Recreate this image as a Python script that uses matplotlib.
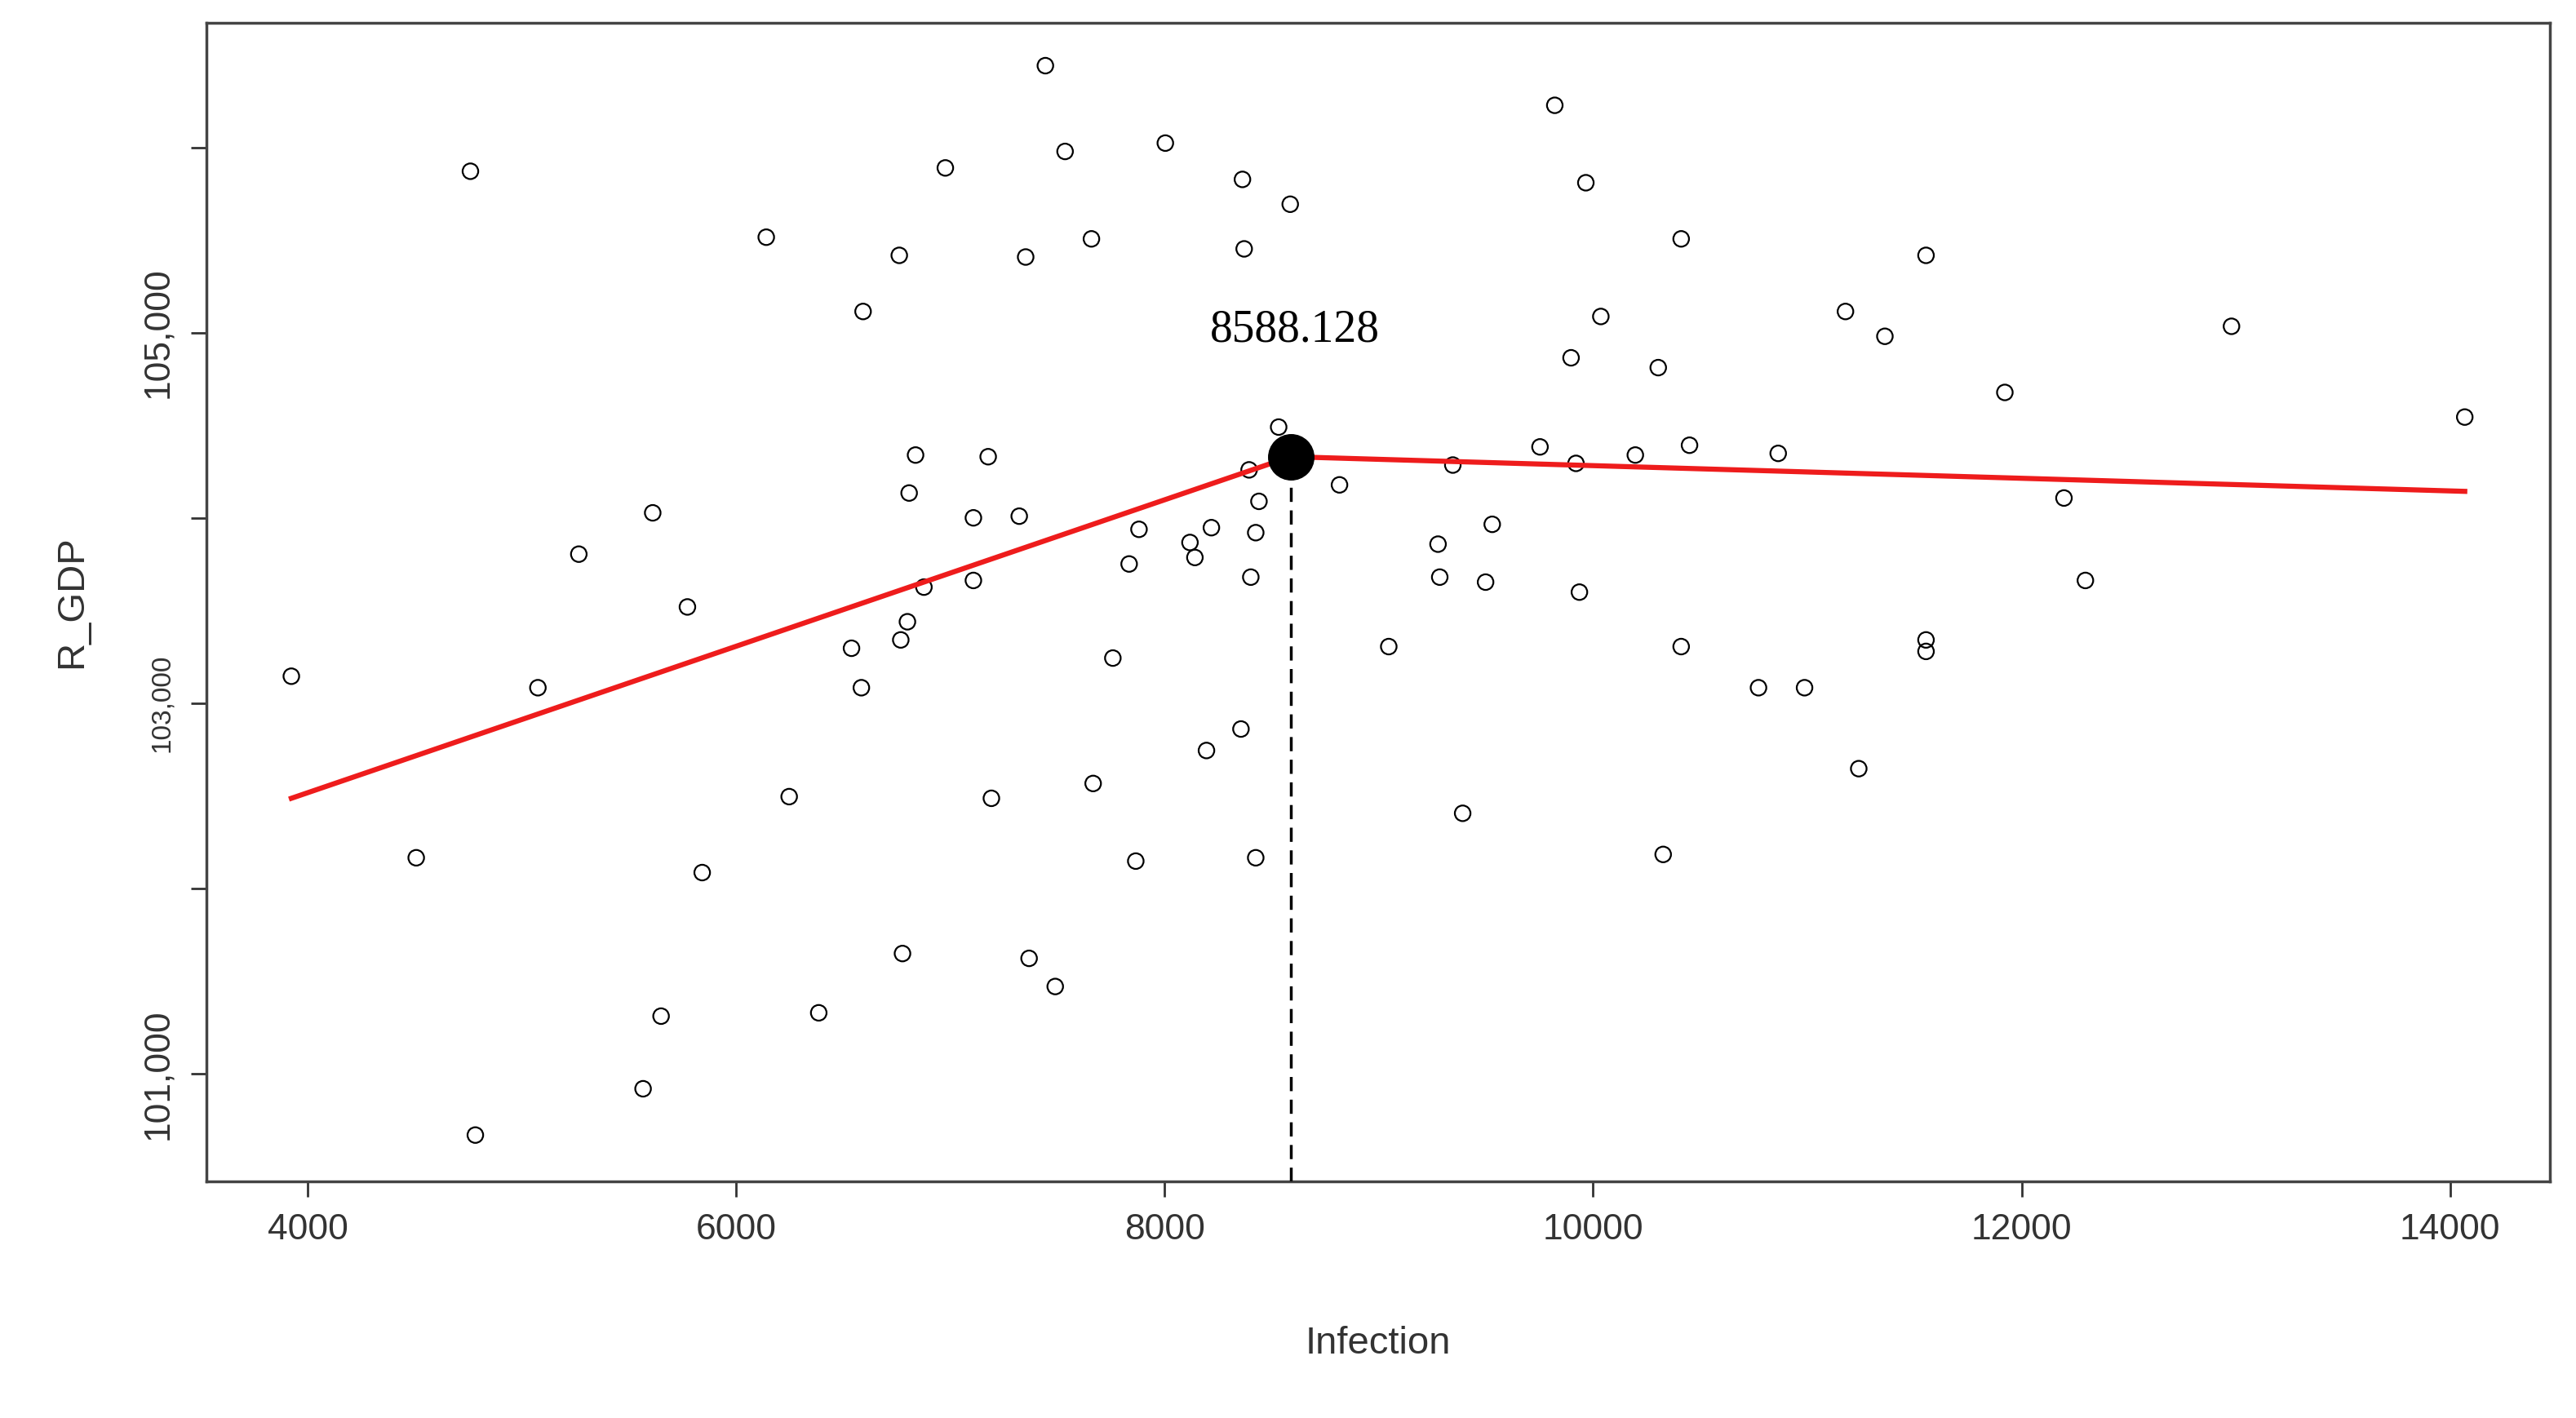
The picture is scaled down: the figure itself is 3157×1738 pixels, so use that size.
import matplotlib
matplotlib.use("Agg")
import matplotlib.pyplot as plt

# scatter data
infection = [3923, 4506, 4759, 4782, 5074, 5265, 5610, 5565, 5649, 5772, 5841, 6140, 6247, 6385,
             6538, 6584, 6592, 6761, 6768, 6799, 6807, 6837, 6876, 6776, 6976, 7107, 7107, 7176,
             7191, 7321, 7351, 7367, 7443, 7489, 7535, 7658, 7666, 7758, 7834, 7865, 7880, 8003,
             8118, 8141, 8195, 8218, 8356, 8363, 8371, 8394, 8402, 8425, 8425, 8440, 8532, 8586,
             8816, 9046, 9276, 9284, 9345, 9391, 9498, 9529, 9752, 9821, 9897, 9920, 9936, 9966,
             10036, 10197, 10304, 10327, 10411, 10411, 10450, 10772, 10864, 10987, 11178, 11240,
             11362, 11554, 11554, 11554, 11922, 12198, 12298, 12980, 14069]
r_gdp = [103147, 102167, 105873, 100670, 103085, 103806, 104029, 100920, 101312, 103521, 102087,
         105517, 102497, 101330, 103298, 103085, 105116, 105419, 103343, 103441, 104136, 104341,
         103628, 101650, 105891, 104002, 103664, 104332, 102488, 104011, 105410, 101624, 106443,
         101472, 105980, 105508, 102568, 103245, 103753, 102149, 103940, 106025, 103869, 103788,
         102746, 103949, 102862, 105829, 105454, 104261, 103682, 103922, 102167, 104091, 104492,
         105695, 104180, 103307, 103860, 103682, 104287, 102407, 103655, 103967, 104385, 106229,
         104866, 104296, 103601, 105811, 105089, 104341, 104813, 102185, 103307, 105508, 104394,
         103085, 104350, 103085, 105116, 102648, 104982, 105419, 103343, 103281, 104679, 104109,
         103664, 105036, 104546]

# piecewise fit
fit_x = [3923, 8588.128, 14069]
fit_y = [102488, 104332, 104145]
breakpoint_x = 8588.128
breakpoint_y = 104332

x_ticks = [4000, 6000, 8000, 10000, 12000, 14000]
y_ticks = [101000, 102000, 103000, 104000, 105000, 106000]
y_labels = ["101,000", "", "103,000", "", "105,000", ""]

plt.rcParams['font.family'] = ['Liberation Sans', 'DejaVu Sans']
fig = plt.figure(figsize=(31.57, 17.38), dpi=100)
ax = fig.add_axes([0.080, 0.167, 0.910, 0.817])

ax.scatter(infection, r_gdp, s=190, facecolors='none', edgecolors='black', linewidths=1.6, zorder=2)
ax.plot(fit_x, fit_y, color='#ee1c1c', linewidth=4.5, zorder=3)
ax.plot([breakpoint_x, breakpoint_x], [100421, breakpoint_y], color='black',
        linestyle=(0, (5, 3)), linewidth=2.5, zorder=3)
ax.plot(breakpoint_x, breakpoint_y, 'o', color='black', markersize=40, zorder=4)
ax.text(breakpoint_x + 20, 105018, "8588.128", fontsize=40, family='Liberation Serif',
        ha='center', va='center')

ax.set_xlim(3525, 14468)
ax.set_ylim(100421, 106675)
ax.set_xticks(x_ticks)
ax.set_yticks(y_ticks)
ax.set_yticklabels(y_labels, rotation=90, va='center')
ax.tick_params(axis='both', labelsize=32, length=14, width=2, colors='#333333', pad=14)
for lab in ax.get_yticklabels():
    if lab.get_text() == "103,000":
        lab.set_fontsize(24)
for s in ax.spines.values():
    s.set_linewidth(2.5)
    s.set_color('#444444')

ax.set_xlabel("Infection", fontsize=34, color='#333333', labelpad=70)
ax.set_ylabel("R_GDP", fontsize=34, color='#333333', labelpad=45)

fig.savefig("out.png", dpi=100)
